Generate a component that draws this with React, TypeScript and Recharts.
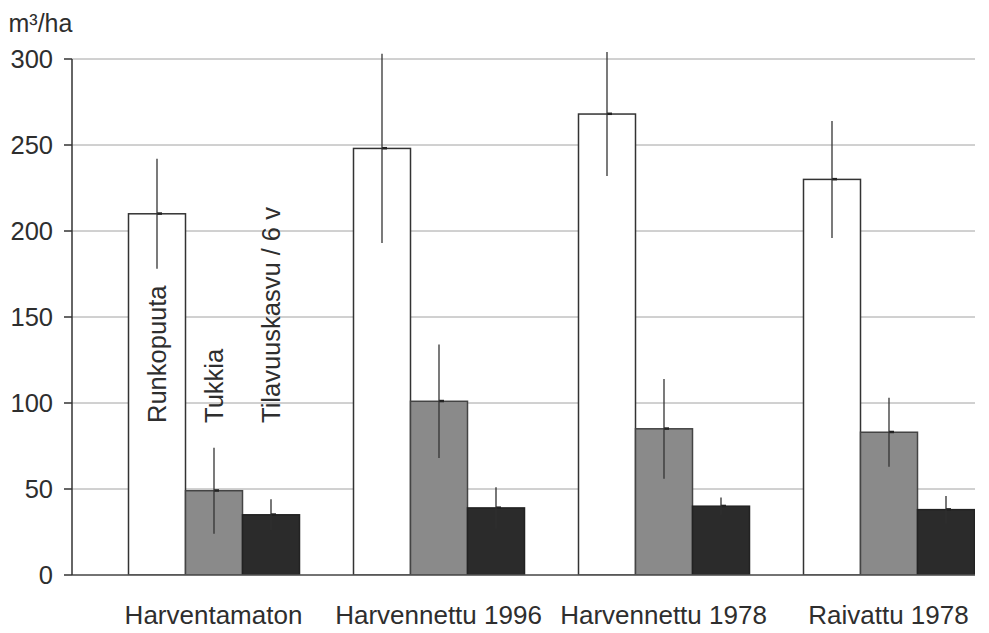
import { BarChart, Bar, XAxis, YAxis, CartesianGrid, ErrorBar, LabelList } from "recharts";

const CATEGORIES = ["Harventamaton", "Harvennettu 1996", "Harvennettu 1978", "Raivattu 1978"];

const RUNKOPUUTA = [210, 248, 268, 230];
const RUNKOPUUTA_ERR = [32, 55, 36, 34];
const TUKKIA = [49, 101, 85, 83];
const TUKKIA_ERR = [25, 33, 29, 20];
const TILAVUUSKASVU = [35, 39, 40, 38];
const TILAVUUSKASVU_ERR = [9, 12, 5, 8];

const Y_TICKS = [0, 50, 100, 150, 200, 250, 300];

const FONT = '"Liberation Sans", Arial, Helvetica, sans-serif';

const data = CATEGORIES.map((name, i) => ({
  name,
  runko: RUNKOPUUTA[i],
  runkoErr: RUNKOPUUTA_ERR[i],
  tukki: TUKKIA[i],
  tukkiErr: TUKKIA_ERR[i],
  kasvu: TILAVUUSKASVU[i],
  kasvuErr: TILAVUUSKASVU_ERR[i],
}));

// bar with a small dark notch at the mean, right of the error line
function MarkedBar(props: any) {
  const { x, y, width, height, fill, stroke } = props;
  const cx = x + width / 2;
  return (
    <g>
      <rect x={x} y={y} width={width} height={height} fill={fill} stroke={stroke} strokeWidth={1.5} />
      <rect x={cx} y={y - 1.5} width={5} height={2.5} fill="#222" />
    </g>
  );
}

// vertical series names, drawn only in the first group
function seriesName(text: string) {
  return (props: any) => {
    const { index, x, y, width, height } = props;
    if (index !== 0) return null;
    const cx = Number(x) + Number(width) / 2;
    const base = Number(y) + Number(height) - 152;
    return (
      <text
        x={cx}
        y={base}
        transform={`rotate(-90, ${cx}, ${base})`}
        textAnchor="start"
        dominantBaseline="central"
        fontFamily={FONT}
        fontSize={25.5}
        fill="#2e2e2e"
      >
        {text}
      </text>
    );
  };
}

function UnitLabel(props: any) {
  const vb = props.viewBox || { x: 0, y: 51 };
  return (
    <text x={vb.x + 0.5} y={vb.y - 27} fontFamily={FONT} fontSize={25} fill="#2e2e2e">
      m³/ha
    </text>
  );
}

export default function App() {
  return (
    <div style={{ width: 967, height: 625, overflow: "hidden" }}>
      <BarChart
        width={993}
        height={625}
        data={data}
        margin={{ top: 51, right: 0, bottom: 0, left: 0 }}
        barCategoryGap={27.5}
        barGap={0}
      >
        <CartesianGrid horizontal vertical={false} stroke="#a2a2a2" strokeWidth={1} />
        <XAxis
          dataKey="name"
          height={58}
          padding={{ left: 29, right: 0 }}
          axisLine={{ stroke: "#555", strokeWidth: 1.5 }}
          tickLine={false}
          tickSize={0}
          tickMargin={31}
          interval={0}
          tick={{ fontFamily: FONT, fontSize: 26, fill: "#2e2e2e" }}
        />
        <YAxis
          width={64}
          domain={[0, 300]}
          ticks={Y_TICKS}
          allowDataOverflow
          axisLine={{ stroke: "#333", strokeWidth: 1.5 }}
          tickLine={{ stroke: "#333", strokeWidth: 1.5 }}
          tickSize={8}
          tickMargin={11}
          tick={{ fontFamily: FONT, fontSize: 25.5, fill: "#2e2e2e" }}
          label={<UnitLabel />}
        />
        <Bar dataKey="runko" fill="#ffffff" stroke="#333" shape={<MarkedBar />} isAnimationActive={false}>
          <ErrorBar dataKey="runkoErr" width={0} stroke="#333" strokeWidth={1.3} />
          <LabelList dataKey="runko" content={seriesName("Runkopuuta")} />
        </Bar>
        <Bar dataKey="tukki" fill="#8a8a8a" stroke="#444" shape={<MarkedBar />} isAnimationActive={false}>
          <ErrorBar dataKey="tukkiErr" width={0} stroke="#333" strokeWidth={1.3} />
          <LabelList dataKey="tukki" content={seriesName("Tukkia")} />
        </Bar>
        <Bar dataKey="kasvu" fill="#2b2b2b" stroke="#222" shape={<MarkedBar />} isAnimationActive={false}>
          <ErrorBar dataKey="kasvuErr" width={0} stroke="#2f2f2f" strokeWidth={1.3} />
          <LabelList dataKey="kasvu" content={seriesName("Tilavuuskasvu / 6 v")} />
        </Bar>
      </BarChart>
    </div>
  );
}
